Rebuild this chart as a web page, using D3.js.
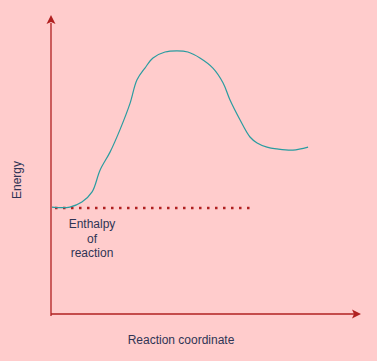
<!DOCTYPE html>
<html><head><meta charset="utf-8">
<script src="https://cdn.jsdelivr.net/npm/d3@7"></script>
<style>html,body{margin:0;padding:0;background:#ffcccc;}svg{display:block;}</style>
</head><body>
<script>
// Reaction coordinate (0-100) and energy (0-100)
const reactionCoord = [0.3, 2.9, 6.1, 10.0, 13.3, 15.9, 19.1, 22.3, 25.6, 27.8, 30.4, 33.0, 36.9, 40.8, 44.3, 48.2, 52.4, 55.7, 57.9, 61.2, 64.4, 66.7, 69.9, 73.1, 78.3, 83.2];
const energy = [36.0, 35.8, 36.0, 37.7, 41.1, 48.5, 54.5, 62.0, 71.0, 78.8, 82.8, 86.2, 88.2, 88.6, 88.2, 86.2, 82.8, 77.8, 72.1, 65.3, 59.6, 57.6, 56.2, 55.6, 55.2, 56.2];
const enthalpyLevel = [35.7];
const enthalpyRange = [1.3, 64.5];
const labels = { x: "Reaction coordinate", y: "Energy", enthalpy: ["Enthalpy", "of", "reaction"] };

const W = 377, H = 361;
const svg = d3.select("body").append("svg").attr("width", W).attr("height", H);
svg.append("rect").attr("width", W).attr("height", H).attr("fill", "#ffcccc");

const x = d3.scaleLinear().domain([0, 100]).range([51, 360]);
const y = d3.scaleLinear().domain([0, 100]).range([314, 17]);
const axisColor = "#b02020";

// axes
svg.append("line").attr("x1", x(0)).attr("x2", x(0)).attr("y1", y(-0.7)).attr("y2", y(98)).attr("stroke", axisColor).attr("stroke-width", 1.3);
svg.append("line").attr("x1", x(0)).attr("x2", x(99)).attr("y1", y(0)).attr("y2", y(0)).attr("stroke", axisColor).attr("stroke-width", 1.3);
// arrowheads
const yt = [x(0), y(100) - 2];
svg.append("path").attr("d", `M${yt[0]},${yt[1]} L${yt[0]+4.5},${yt[1]+9} L${yt[0]},${yt[1]+7} L${yt[0]-4.5},${yt[1]+9} Z`).attr("fill", axisColor);
const xt = [x(100) + 1, y(0)];
svg.append("path").attr("d", `M${xt[0]},${xt[1]} L${xt[0]-9},${xt[1]-4.5} L${xt[0]-7},${xt[1]} L${xt[0]-9},${xt[1]+4.5} Z`).attr("fill", axisColor);

// enthalpy dotted line
svg.append("line")
  .attr("x1", x(enthalpyRange[0])).attr("x2", x(enthalpyRange[1]))
  .attr("y1", y(enthalpyLevel[0])).attr("y2", y(enthalpyLevel[0]))
  .attr("stroke", axisColor).attr("stroke-width", 2.5).attr("stroke-dasharray", "2.5,5.5");

// curve
const pts = reactionCoord.map((v, i) => [v, energy[i]]);
svg.append("path").datum(pts)
  .attr("d", d3.line().x(d => x(d[0])).y(d => y(d[1])).curve(d3.curveCatmullRom.alpha(0.5)))
  .attr("fill", "none").attr("stroke", "#2a9ca0").attr("stroke-width", 1.2);

// texts
const tc = "#2f3455";
const font = "'Liberation Sans', Arial, sans-serif";
svg.append("text").attr("x", 181).attr("y", 344).attr("text-anchor", "middle")
  .attr("font-family", font).attr("font-size", 12).attr("fill", tc).text(labels.x);
svg.append("text").attr("transform", "translate(21,180) rotate(-90)").attr("text-anchor", "middle")
  .attr("font-family", font).attr("font-size", 12).attr("fill", tc).text(labels.y);
labels.enthalpy.forEach((t, i) => {
  svg.append("text").attr("x", 92).attr("y", 228 + i * 14.5).attr("text-anchor", "middle")
    .attr("font-family", font).attr("font-size", 12).attr("fill", tc).text(t);
});
</script>
</body></html>
